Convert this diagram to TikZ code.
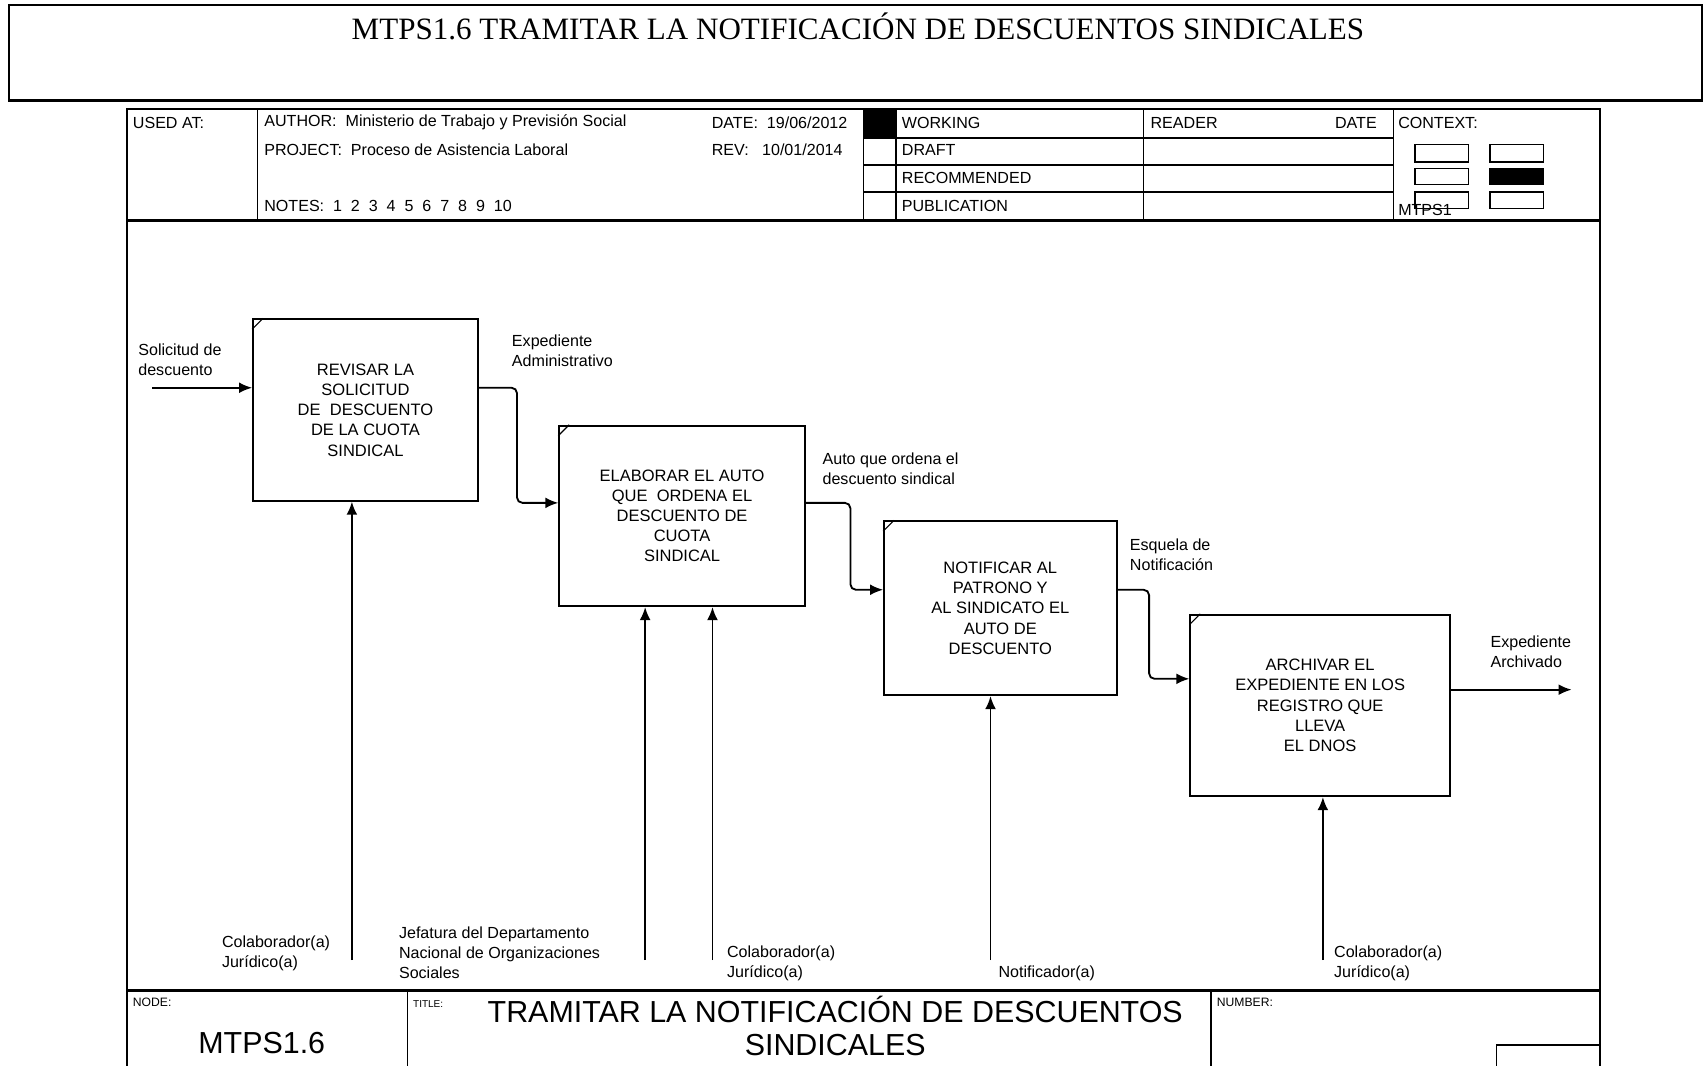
\documentclass[tikz,border=0pt]{standalone}
\usepackage{fontspec}
\setmainfont{Liberation Sans}
\newfontfamily\titleserif{Liberation Serif}
\usetikzlibrary{arrows.meta,calc}

\tikzset{
  frameline/.style={line width=1pt},
  thinrule/.style={line width=0.7pt},
  actbox/.style={draw, line width=0.9pt, align=center, inner sep=0pt,
    font=\fontsize{7.6}{9.3}\selectfont},
  flow/.style={line width=0.85pt, -{Latex[length=6pt,width=5pt]}},
  lbl/.style={align=left, inner sep=0pt, anchor=west,
    font=\fontsize{7.4}{9.2}\selectfont},
  hdr/.style={inner sep=0pt, anchor=west, font=\fontsize{7.4}{9}\selectfont},
  tiny/.style={inner sep=0pt, anchor=west, font=\fontsize{5.6}{6.5}\selectfont},
  ctx/.style={draw, line width=0.7pt},
}

\begin{document}
\begin{tikzpicture}[x=0.5pt,y=-0.5pt]
\useasboundingbox (0,0) rectangle (1568,981);

% page title banner
\draw[frameline] (8.6,4.9) rectangle (1566.8,92.5);
\node[inner sep=0pt, font=\titleserif\fontsize{14.3}{16}\selectfont] (pagetitle) at (790,24)
  {MTPS1.6 TRAMITAR LA NOTIFICACIÓN DE DESCUENTOS SINDICALES};

% outer form frame
\draw[frameline] (117,1000) -- (117,100.4) -- (1473,100.4) -- (1473,1000);
\draw[frameline] (117,203) -- (1473,203);
\draw[frameline] (117,912) -- (1473,912);

% header columns
\draw[thinrule] (237,100.4) -- (237,203);
\draw[thinrule] (795,100.4) -- (795,203);
\draw[thinrule] (825,100.4) -- (825,203);
\draw[thinrule] (1053,100.4) -- (1053,203);
\draw[thinrule] (1283,100.4) -- (1283,203);
\foreach \yy in {127,152,177} \draw[thinrule] (795,\yy) -- (1283,\yy);
\fill (795,100.4) rectangle (825,127);

% header texts
\node[hdr] (usedat) at (122,113) {USED AT:};
\node[hdr] (author) at (243,113) {AUTHOR:\ \ Ministerio de Trabajo y Previsión Social};
\node[hdr] (project) at (243,138) {PROJECT:\ \ Proceso de Asistencia Laboral};
\node[hdr] (notes) at (243,190) {NOTES:\ \ 1\ \ 2\ \ 3\ \ 4\ \ 5\ \ 6\ \ 7\ \ 8\ \ 9\ \ 10};
\node[hdr] (date) at (655,113) {DATE:\ \ 19/06/2012};
\node[hdr] (rev) at (655,138) {REV:\ \ \ 10/01/2014};
\node[hdr] (working) at (830,113) {WORKING};
\node[hdr] (draft) at (830,138) {DRAFT};
\node[hdr] (recommended) at (830,164) {RECOMMENDED};
\node[hdr] (publication) at (830,190) {PUBLICATION};
\node[hdr] (reader) at (1059,113) {READER};
\node[hdr, anchor=east] (rdate) at (1268,113) {DATE};
\node[hdr] (context) at (1287,113) {CONTEXT:};

% context map
\draw[ctx] (1303,133) rectangle (1352,149);
\draw[ctx] (1372,133) rectangle (1421,149);
\draw[ctx] (1303,155) rectangle (1352,170);
\filldraw[ctx] (1372,155) rectangle (1421,170);
\draw[ctx] (1303,177) rectangle (1352,192);
\draw[ctx] (1372,177) rectangle (1421,192);
\node[hdr] (ctxnode) at (1287,193) {MTPS1};

% footer
\draw[thinrule] (375,912) -- (375,1000);
\draw[thinrule] (1115,912) -- (1115,1000);
\draw[thinrule] (1473,962) -- (1378,962) -- (1378,1000);
\node[tiny] (nodelbl) at (122,923) {NODE:};
\node[inner sep=0pt, font=\fontsize{14}{16}\selectfont] (nodeno) at (241,960) {MTPS1.6};
\node[tiny, font=\fontsize{4.6}{5}\selectfont] (titlelbl) at (380,924) {TITLE:};
\node[inner sep=0pt, align=center, font=\fontsize{14}{15.5}\selectfont] (title) at (769,944.5)
  {TRAMITAR LA NOTIFICACIÓN DE DESCUENTOS\\SINDICALES};
\node[tiny] (numberlbl) at (1120,923) {NUMBER:};

% activities
\node[actbox, minimum width=103.5pt, minimum height=83.5pt] (b1) at (336.5,377.5)
  {REVISAR LA\\SOLICITUD\\DE\ \ DESCUENTO\\DE LA CUOTA\\SINDICAL};
\node[actbox, minimum width=113pt, minimum height=83pt] (b2) at (628,475)
  {ELABORAR EL AUTO\\QUE\ \ ORDENA EL\\DESCUENTO DE\\CUOTA\\SINDICAL};
\node[actbox, minimum width=107pt, minimum height=80pt] (b3) at (921,560)
  {NOTIFICAR AL\\PATRONO Y\\AL SINDICATO EL\\AUTO DE\\DESCUENTO};
\node[actbox, minimum width=119.5pt, minimum height=83.5pt] (b4) at (1215.5,649.5)
  {ARCHIVAR EL\\EXPEDIENTE EN LOS\\REGISTRO QUE\\LLEVA\\EL DNOS};
\foreach \b in {b1,b2,b3,b4}
  \draw[line width=0.5pt] ($(\b.north west)+(0,10)$) -- ($(\b.north west)+(10,0)$);

% connector end points and bends
\coordinate (inS) at (140,357);
\coordinate (k1a) at (476,357);
\coordinate (k1b) at (476,463);
\coordinate (k2a) at (783,463);
\coordinate (k2b) at (783,543);
\coordinate (k3a) at (1058,543);
\coordinate (k3b) at (1058,625);
\coordinate (outE) at (1447,635);
\coordinate (m1) at (324,884);
\coordinate (m2a) at (594,884);
\coordinate (m2b) at (656,884);
\coordinate (m3) at (912,884);
\coordinate (m4) at (1218,884);

% inputs and outputs
\draw[flow] (inS) -- (inS -| b1.west);
\draw[flow, rounded corners=2.5pt] (b1.east |- k1a) -- (k1a) -- (k1b) -- (b2.west |- k1b);
\draw[flow, rounded corners=2.5pt] (b2.east |- k2a) -- (k2a) -- (k2b) -- (b3.west |- k2b);
\draw[flow, rounded corners=2.5pt] (b3.east |- k3a) -- (k3a) -- (k3b) -- (b4.west |- k3b);
\draw[flow] (b4.east |- outE) -- (outE);

% mechanisms
\draw[flow] (m1) -- (m1 |- b1.south);
\draw[flow] (m2a) -- (m2a |- b2.south);
\draw[flow] (m2b) -- (m2b |- b2.south);
\draw[flow] (m3) -- (m3 |- b3.south);
\draw[flow] (m4) -- (m4 |- b4.south);

% arrow labels
\node[lbl] (l_in) at (127,331) {Solicitud de\\descuento};
\node[lbl] (l_12) at (471,322.5) {Expediente\\Administrativo};
\node[lbl] (l_23) at (757,432) {Auto que ordena el\\descuento sindical};
\node[lbl] (l_34) at (1040,511) {Esquela de\\Notificación};
\node[lbl] (l_out) at (1372,600) {Expediente\\Archivado};
\node[lbl] (l_m1) at (204,878) {Colaborador(a)\\Jurídico(a)};
\node[lbl] (l_m2a) at (367,877) {Jefatura del Departamento\\Nacional de Organizaciones\\Sociales};
\node[lbl] (l_m2b) at (669,887) {Colaborador(a)\\Jurídico(a)};
\node[lbl] (l_m3) at (919,896) {Notificador(a)};
\node[lbl] (l_m4) at (1228,887) {Colaborador(a)\\Jurídico(a)};
\end{tikzpicture}
\end{document}
